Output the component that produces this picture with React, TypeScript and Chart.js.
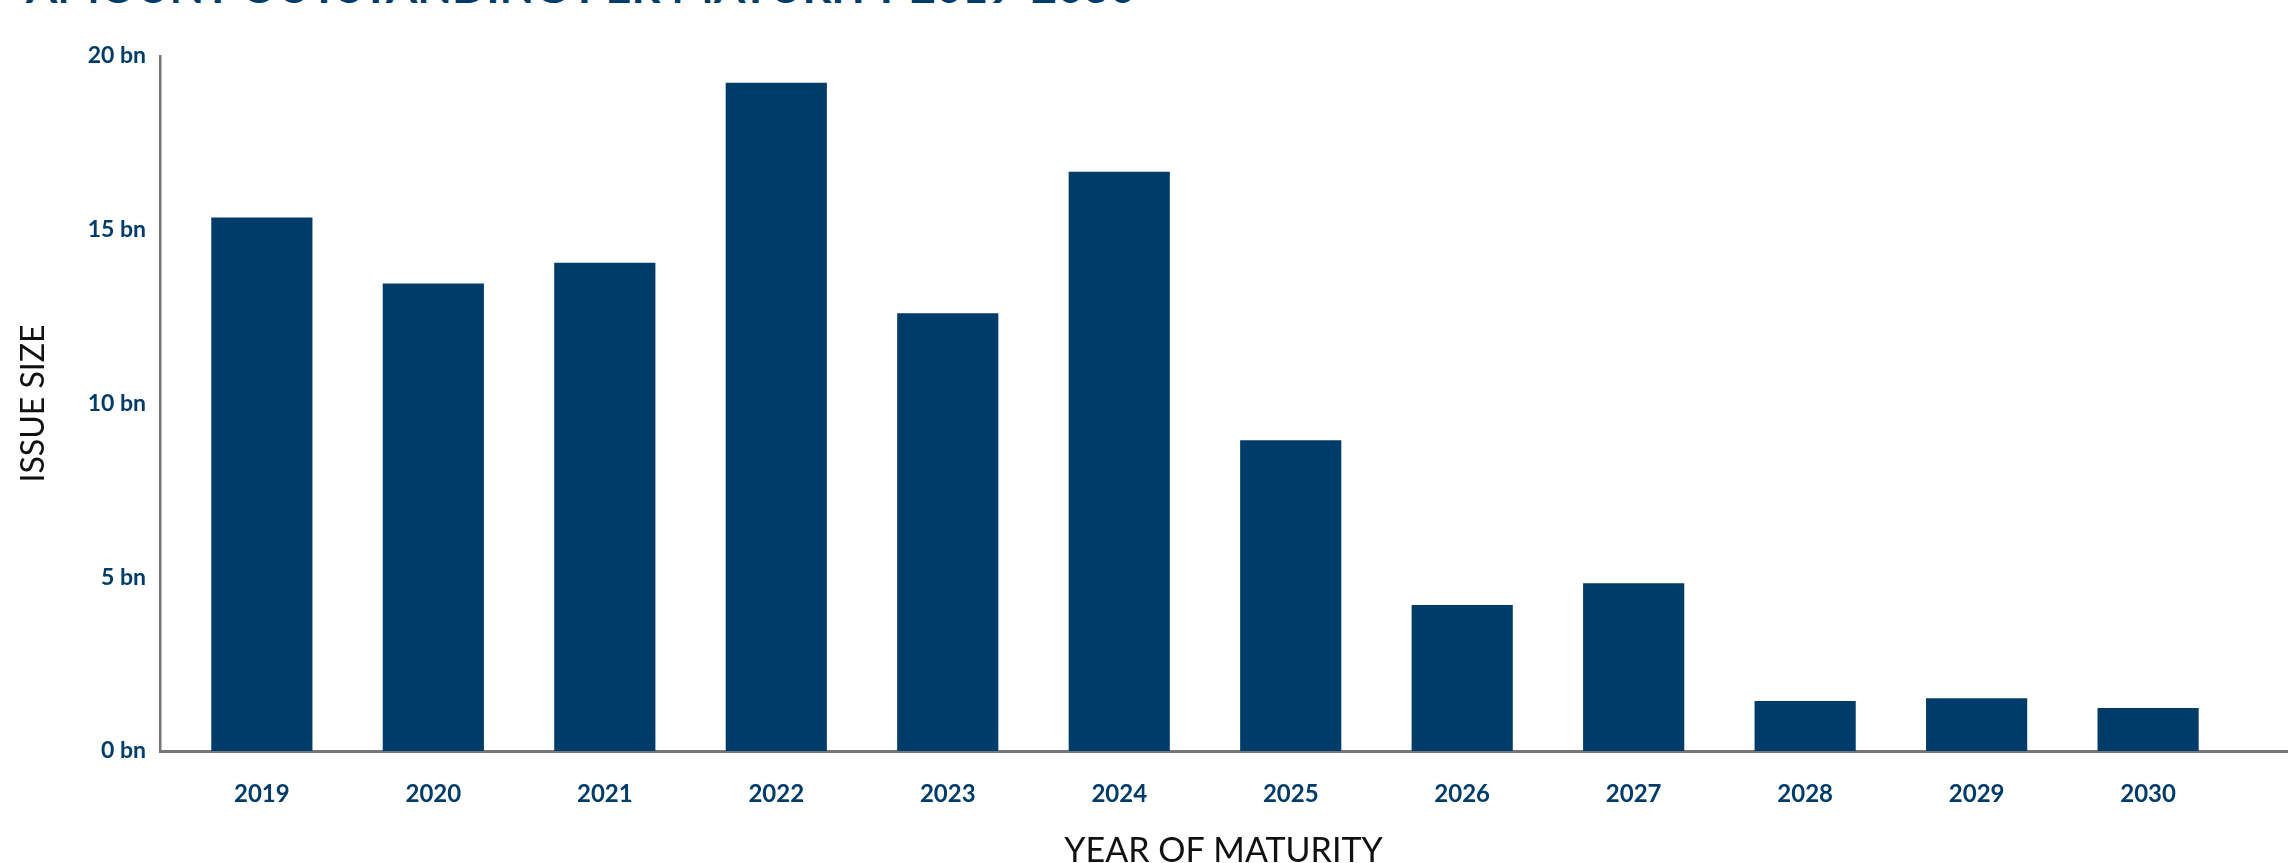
import React, { useEffect, useRef } from "react";
import { Chart, registerables } from "chart.js";

Chart.register(...registerables);

const TITLE = "AMOUNT OUTSTANDING PER MATURITY 2019-2030";
const years = ["2019", "2020", "2021", "2022", "2023", "2024", "2025", "2026", "2027", "2028", "2029", "2030"];
const issueSizeBn = [15.35, 13.45, 14.05, 19.23, 12.6, 16.67, 8.94, 4.2, 4.83, 1.44, 1.52, 1.24];
const yTickValues = [0, 5, 10, 15, 20];
const yAxisTitle = "ISSUE SIZE";
const xAxisTitle = "YEAR OF MATURITY";

const NAVY = "#003c69";
const AXIS_GREY = "#777777";

export default function App() {
  const canvasRef = useRef<HTMLCanvasElement | null>(null);

  useEffect(() => {
    const canvas = canvasRef.current;
    if (!canvas) return;
    const points = years.map((y, i) => ({ x: Number(y), y: issueSizeBn[i] }));
    const chart = new Chart(canvas, {
      type: "bar",
      data: {
        datasets: [
          {
            label: yAxisTitle,
            data: points as any,
            backgroundColor: NAVY,
            borderWidth: 0,
            categoryPercentage: 1,
            barPercentage: 0.59,
          },
        ],
      },
      options: {
        animation: false,
        responsive: false,
        devicePixelRatio: 1,
        layout: { padding: { top: 56, right: 4, left: 0, bottom: 0 } },
        plugins: {
          legend: { display: false },
          tooltip: { enabled: false },
          title: { display: false },
        },
        scales: {
          x: {
            type: "linear",
            offset: false,
            min: 2018.406,
            max: 2030.81,
            grid: { display: false, drawTicks: false, tickLength: 0, offset: false },
            border: { display: true, color: AXIS_GREY, width: 3 },
            afterFit: (scale: any) => {
              scale.height = 112;
            },
            afterBuildTicks: (scale: any) => {
              scale.ticks = years.map((y) => ({ value: Number(y) }));
            },
            ticks: {
              stepSize: 1,
              includeBounds: false,
              autoSkip: false,
              maxRotation: 0,
              padding: 29,
              color: NAVY,
              font: { family: "Lato", size: 24, weight: "bold" },
              callback: (v: any) => String(v),
            },
            title: {
              display: true,
              text: xAxisTitle,
              color: "#111111",
              font: { family: "Lato", size: 34, weight: "normal", lineHeight: 0.8 },
              padding: { top: 0, bottom: -2 },
            },
          },
          y: {
            type: "linear",
            min: 0,
            max: 20,
            grid: { display: false, drawTicks: false, tickLength: 0 },
            border: { display: true, color: AXIS_GREY, width: 2.5 },
            afterFit: (scale: any) => {
              scale.width = 160;
            },
            afterBuildTicks: (scale: any) => {
              scale.ticks = yTickValues.map((v) => ({ value: v }));
            },
            ticks: {
              padding: 14,
              color: NAVY,
              font: { family: "Lato", size: 23, weight: "bold" },
              callback: (v: any) => `${v} bn`,
            },
            title: {
              display: true,
              text: yAxisTitle,
              color: "#111111",
              font: { family: "Lato", size: 32, weight: "normal", lineHeight: 1 },
              padding: { top: 18, bottom: 0 },
            },
          },
        },
      },
    });
    return () => chart.destroy();
  }, []);

  return (
    <div style={{ position: "absolute", left: 0, top: 0, width: 2291, height: 863, overflow: "hidden", background: "#ffffff" }}>
      <div
        style={{
          position: "absolute",
          left: 26,
          top: -36,
          fontFamily: "Lato",
          fontWeight: 700,
          fontSize: 45,
          lineHeight: 1,
          color: NAVY,
          whiteSpace: "nowrap",
        }}
      >
        {TITLE}
      </div>
      <canvas ref={canvasRef} width={2291} height={863} style={{ position: "absolute", left: 0, top: 0, width: 2291, height: 863 }} />
    </div>
  );
}
